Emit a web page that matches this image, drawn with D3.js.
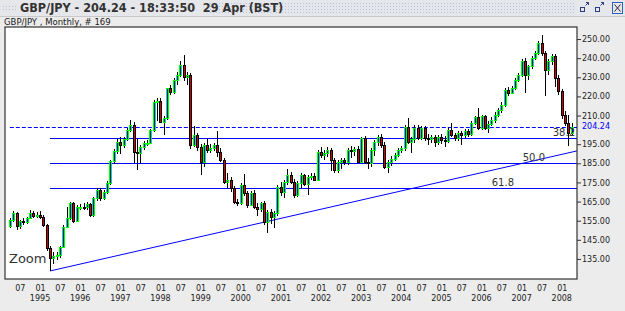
<!DOCTYPE html>
<html>
<head>
<meta charset="utf-8">
<script src="https://cdn.jsdelivr.net/npm/d3@7"></script>
<style>
  body { margin: 0; background: #ececec; }
  svg { display: block; }
  text { font-family: "DejaVu Sans", sans-serif; fill: #222; }
</style>
</head>
<body>
<div id="chart"></div>
<script>
// monthly GBP/JPY candles, first one is April 1994
const firstMonth = new Date(1994, 3, 1);
const opens = [152.0,155.4,159.2,152.0,154.8,154.2,156.3,159.0,157.2,158.2,157.0,152.8,140.6,135.3,136.5,137.0,141.4,151.9,156.3,164.1,155.0,162.0,162.3,162.0,163.6,158.0,166.7,171.0,166.7,170.0,174.6,186.2,191.5,196.3,194.8,197.6,202.4,205.0,191.1,190.3,193.7,195.5,195.8,202.4,217.2,217.8,206.8,208.5,224.2,222.1,228.6,231.2,236.4,230.0,231.0,194.6,199.8,193.7,185.9,194.6,191.8,193.0,194.5,191.1,186.8,175.4,176.3,171.9,165.0,164.1,173.7,169.3,163.2,169.3,162.4,161.2,164.1,154.5,159.7,157.1,158.8,172.8,170.2,175.4,178.9,175.4,168.5,174.5,178.9,174.0,178.0,178.5,176.3,191.1,189.4,190.5,192.0,186.7,181.5,185.9,186.7,185.5,192.0,191.3,192.4,185.9,198.1,185.9,185.0,192.0,196.3,199.0,194.6,183.3,185.9,187.5,189.4,192.0,192.8,204.2,196.3,197.5,203.7,198.5,203.3,198.5,197.5,198.9,196.0,198.9,197.0,196.5,202.4,199.8,198.0,200.9,200.0,201.7,200.3,206.1,209.0,203.5,209.6,203.5,205.5,207.8,210.5,213.0,215.7,223.5,222.0,224.4,228.7,231.4,238.3,231.4,235.7,240.1,242.7,247.9,242.7,234.0,238.3,240.9,229.6,222.6,210.5,206.1,200.9];
const highs = [156.5,160.0,159.8,155.5,156.5,157.0,160.5,160.0,159.3,160.0,157.8,153.5,142.0,138.5,138.8,142.0,152.5,162.4,164.8,165.0,163.0,163.5,164.0,165.0,164.5,167.5,172.0,172.0,171.0,175.5,187.0,192.5,197.5,199.0,199.0,203.5,207.7,206.5,197.5,194.5,196.5,197.0,203.0,218.0,219.0,219.0,210.0,224.5,226.0,229.5,233.0,238.5,241.6,233.0,232.0,204.5,201.0,195.0,195.5,197.5,195.0,195.5,202.0,193.0,188.0,180.0,178.0,173.0,166.5,174.5,179.5,170.5,170.3,171.0,164.5,165.0,165.5,160.5,161.0,160.0,173.5,175.0,176.5,182.0,180.5,177.0,175.5,180.0,179.5,179.0,180.0,180.0,192.0,193.5,192.0,193.5,193.0,188.0,187.0,188.0,188.0,193.0,194.0,193.5,194.0,199.0,199.5,188.0,193.0,197.0,200.0,200.5,196.0,187.0,189.0,190.5,193.0,194.0,205.0,208.5,199.0,205.0,205.0,204.5,204.5,200.5,200.0,200.0,200.0,200.5,199.5,203.5,206.0,201.0,202.0,202.0,203.0,203.0,207.0,210.0,213.9,210.5,210.5,207.0,209.0,212.0,214.0,217.0,224.5,225.0,225.5,229.5,232.5,239.5,240.0,236.5,241.0,243.5,249.0,252.3,244.0,239.5,242.0,242.0,231.0,224.0,212.5,210.4,206.0];
const lows = [151.0,154.5,150.2,150.5,152.5,153.5,155.8,156.2,156.5,156.0,151.5,139.0,128.7,132.5,134.5,135.5,140.5,151.0,155.5,153.8,154.5,160.5,160.5,160.8,157.0,157.0,165.5,165.5,165.8,169.0,173.5,184.5,190.0,190.0,193.0,196.5,201.5,185.0,181.5,185.0,192.0,194.0,195.0,201.5,207.0,206.5,200.0,207.5,220.5,221.0,226.0,230.0,228.0,226.0,192.5,193.5,191.5,178.9,183.0,190.5,190.5,191.5,188.5,185.5,174.0,172.0,170.0,163.5,162.5,163.0,168.0,161.5,162.5,161.0,157.5,159.5,153.0,148.5,153.5,151.0,157.5,168.0,167.0,173.5,174.0,167.0,167.5,172.0,173.0,168.5,176.5,175.5,175.5,188.0,186.5,188.5,181.0,180.0,180.0,182.0,184.0,184.0,188.0,189.0,185.0,185.0,184.5,182.0,183.0,189.0,194.0,193.0,182.0,179.7,183.5,186.0,188.5,190.5,191.5,195.0,190.5,195.5,197.0,197.0,196.5,194.5,195.5,193.5,194.5,195.0,193.5,195.5,199.0,196.5,196.5,194.5,198.5,199.0,199.5,205.0,202.5,202.5,202.5,201.0,204.5,206.0,209.0,211.5,214.5,220.0,221.0,223.5,227.5,230.0,221.8,228.5,234.5,239.0,241.5,241.0,220.0,231.0,236.5,225.0,220.5,208.0,204.5,193.9,199.5];
const closes = [155.4,159.2,152.0,154.8,154.2,156.3,159.0,157.2,158.2,157.0,152.8,140.6,135.3,136.5,137.0,141.4,151.9,156.3,164.1,155.0,162.0,162.3,162.0,163.6,158.0,166.7,171.0,166.7,170.0,174.6,186.2,191.5,196.3,194.8,197.6,202.4,205.0,191.1,190.3,193.7,195.5,195.8,202.4,217.2,217.8,206.8,208.5,224.2,222.1,228.6,231.2,236.4,230.0,231.0,194.6,199.8,193.7,185.9,194.6,191.8,193.0,194.5,191.1,186.8,175.4,176.3,171.9,165.0,164.1,173.7,169.3,163.2,169.3,162.4,161.2,164.1,154.5,159.7,157.1,158.8,172.8,170.2,175.4,178.9,175.4,168.5,174.5,178.9,174.0,178.0,178.5,176.3,191.1,189.4,190.5,192.0,186.7,181.5,185.9,186.7,185.5,192.0,191.3,192.4,185.9,198.1,185.9,185.0,192.0,196.3,199.0,194.6,183.3,185.9,187.5,189.4,192.0,192.8,204.2,196.3,197.5,203.7,198.5,203.3,198.5,197.5,198.9,196.0,198.9,197.0,196.5,202.4,199.8,198.0,200.9,200.0,201.7,200.3,206.1,209.0,203.5,209.6,203.5,205.5,207.8,210.5,213.0,215.7,223.5,222.0,224.4,228.7,231.4,238.3,231.4,235.7,240.1,242.7,247.9,242.7,234.0,238.3,240.9,229.6,222.6,210.5,206.1,200.9,204.24];

const yTicks = [135, 145, 155, 165, 175, 185, 195, 210, 220, 230, 240, 250];
const lastPrice = 204.24;
const lastTime = '18:33:50  29 Apr (BST)';

// fibonacci retracement drawn from the 1995 low to the 1998 high
const fibStart = new Date(1995, 3, 1);
const fibLow = 129.7, fibHigh = 240.3;
const fibRatios = [0.382, 0.5, 0.618];
const fibLabels = ['38.2', '50.0', '61.8'];

// support trend line from the 1995 low
const trendFrom = { date: new Date(1995, 3, 1), value: 128.7 };
const trendTo = { date: new Date(2008, 4, 19), value: 191.5 };

const months = d3.range(closes.length).map(i => d3.timeMonth.offset(firstMonth, i));
const candles = months.map((d, i) => ({ date: d, o: opens[i], h: highs[i], l: lows[i], c: closes[i] }));

const W = 625, H = 311;
const plot = { left: 5, top: 27, right: 577, bottom: 279 };
const lineBlue = '#0000ff';

const svg = d3.select('#chart').append('svg')
  .attr('width', W)
  .attr('height', H);

// window title bar
const defs = svg.append('defs');
const pat = defs.append('pattern')
  .attr('id', 'dots')
  .attr('width', 3).attr('height', 3)
  .attr('patternUnits', 'userSpaceOnUse');
pat.append('rect').attr('width', 3).attr('height', 3).attr('fill', '#e4e6ec');
pat.append('rect').attr('width', 1).attr('height', 1).attr('fill', '#b8c0d4');

svg.append('rect').attr('x', 0).attr('y', 0).attr('width', W).attr('height', H).attr('fill', '#ececec');
svg.append('rect').attr('x', 0).attr('y', 0).attr('width', W).attr('height', 16).attr('fill', '#e6e7ea');
svg.append('rect').attr('x', 210).attr('y', 2).attr('width', 365).attr('height', 12).attr('fill', 'url(#dots)');
svg.append('rect').attr('x', 3).attr('y', 4).attr('width', 14).attr('height', 8).attr('fill', 'url(#dots)');
svg.append('line').attr('x1', 0).attr('x2', W).attr('y1', 16.5).attr('y2', 16.5).attr('stroke', '#c8c8c8');

svg.append('text')
  .attr('x', 20).attr('y', 12)
  .style('font-family', '"Liberation Sans Narrow", "DejaVu Sans Condensed", sans-serif')
  .style('font-size', '12.5px')
  .style('font-weight', 'bold')
  .style('white-space', 'pre')
  .style('fill', '#333')
  .text(`GBP/JPY - ${lastPrice.toFixed(2)} - ${lastTime}`);

// little window buttons on the right
const btn = svg.append('g').attr('fill', 'none').attr('stroke', '#2b3f80');
btn.append('rect').attr('x', 580.5).attr('y', 7.5).attr('width', 4).attr('height', 4);
btn.append('path').attr('d', 'M585.5,5.5 L588.5,2.5 M586,2.5 h2.5 v2.5');
btn.append('rect').attr('x', 595.5).attr('y', 7.5).attr('width', 4).attr('height', 4);
btn.append('path').attr('d', 'M600.5,5.5 L603.5,2.5 M601,2.5 h2.5 v2.5');
btn.append('rect').attr('x', 612.5).attr('y', 2.5).attr('width', 10).attr('height', 11).attr('stroke', '#3060c0');
btn.append('path').attr('d', 'M614.5,4.5 L620.5,11.5 M620.5,4.5 L614.5,11.5').attr('stroke', '#223');

svg.append('text')
  .attr('x', 4).attr('y', 25)
  .style('font-size', '8.5px')
  .style('fill', '#222')
  .text('GBP/JPY , Monthly, # 169');

// plot area
svg.append('rect')
  .attr('x', plot.left).attr('y', plot.top)
  .attr('width', plot.right - plot.left).attr('height', plot.bottom - plot.top)
  .attr('fill', '#fff');

const x = d3.scaleTime()
  .domain([new Date(1994, 1, 16), new Date(2008, 4, 19)])
  .range([plot.left, plot.right]);

const y = d3.scaleLinear()
  .domain([124.5, 256.3])
  .range([plot.bottom, plot.top]);

defs.append('clipPath').attr('id', 'clip')
  .append('rect')
  .attr('x', plot.left).attr('y', plot.top)
  .attr('width', plot.right - plot.left).attr('height', plot.bottom - plot.top);

const g = svg.append('g').attr('clip-path', 'url(#clip)');

// last price line
g.append('line')
  .attr('x1', x(months[0])).attr('x2', plot.right)
  .attr('y1', Math.round(y(lastPrice)) + 0.5).attr('y2', Math.round(y(lastPrice)) + 0.5)
  .attr('stroke', lineBlue)
  .attr('stroke-dasharray', '4,2');

// fib levels
const fibLevels = fibRatios.map((r, i) => ({ label: fibLabels[i], value: fibHigh - r * (fibHigh - fibLow) }));
g.selectAll('.fib')
  .data(fibLevels)
  .enter().append('line')
  .attr('class', 'fib')
  .attr('x1', x(fibStart)).attr('x2', plot.right)
  .attr('y1', d => Math.round(y(d.value)) + 0.5)
  .attr('y2', d => Math.round(y(d.value)) + 0.5)
  .attr('stroke', lineBlue);

// trend line
g.append('line')
  .attr('x1', x(trendFrom.date)).attr('y1', y(trendFrom.value))
  .attr('x2', x(trendTo.date)).attr('y2', y(trendTo.value))
  .attr('stroke', lineBlue);

// candles, snapped to whole pixels like the original
const cx = d => Math.round(x(d.date));
const wicks = g.append('g').attr('shape-rendering', 'crispEdges');
wicks.selectAll('line')
  .data(candles)
  .enter().append('line')
  .attr('x1', d => cx(d) + 0.5).attr('x2', d => cx(d) + 0.5)
  .attr('y1', d => Math.round(y(d.h))).attr('y2', d => Math.round(y(d.l)))
  .attr('stroke', '#000');

const bodies = g.append('g').attr('shape-rendering', 'crispEdges');
bodies.selectAll('rect')
  .data(candles)
  .enter().append('rect')
  .attr('x', d => cx(d) - 0.5)
  .attr('width', 2)
  .attr('y', d => Math.round(y(Math.max(d.o, d.c))) + 0.5)
  .attr('height', d => Math.max(1, Math.round(y(Math.min(d.o, d.c))) - Math.round(y(Math.max(d.o, d.c)))))
  .attr('fill', d => d.c >= d.o ? '#0000ff' : '#cc0000')
  .attr('stroke', d => d.c >= d.o ? '#00ff00' : '#000')
  .attr('stroke-width', 1);

// fib labels sit just above their lines
const fibLabelOffsets = [2, 32, 63];
svg.selectAll('.fibtxt')
  .data(fibLevels)
  .enter().append('text')
  .attr('class', 'fibtxt')
  .attr('x', (d, i) => plot.right - fibLabelOffsets[i])
  .attr('y', d => y(d.value) - 2)
  .attr('text-anchor', 'end')
  .style('font-size', '10px')
  .style('fill', '#333')
  .text(d => d.label);

svg.append('text')
  .attr('x', 9).attr('y', 263)
  .style('font-size', '13px')
  .style('fill', '#333')
  .text('Zoom');

// border
svg.append('rect')
  .attr('x', plot.left).attr('y', plot.top)
  .attr('width', plot.right - plot.left).attr('height', plot.bottom - plot.top)
  .attr('fill', 'none')
  .attr('stroke', '#333')
  .attr('stroke-width', 1.2);

// y axis on the right
const yAxis = svg.append('g')
  .attr('transform', `translate(${plot.right},0)`)
  .call(d3.axisRight(y).tickValues(yTicks).tickSize(4).tickPadding(1).tickFormat(d3.format('.2f')));
yAxis.select('.domain').remove();
yAxis.selectAll('text').style('font-size', '8px').style('fill', '#222');
yAxis.selectAll('line').attr('stroke', '#333');

svg.append('text')
  .attr('x', plot.right + 5).attr('y', y(lastPrice))
  .attr('dy', '0.32em')
  .style('font-size', '8px')
  .style('fill', '#0000ff')
  .text(lastPrice.toFixed(2));

// x axis: 01 and 07 of every year, year under January
const tickDates = d3.timeMonth.every(6).range(new Date(1994, 6, 1), new Date(2008, 4, 1));
const xAxis = svg.append('g')
  .attr('transform', `translate(0,${plot.bottom})`)
  .call(d3.axisBottom(x).tickValues(tickDates).tickSize(0).tickPadding(6).tickFormat(d3.timeFormat('%m')));
xAxis.select('.domain').remove();
xAxis.selectAll('text').style('font-size', '8px').style('fill', '#222');

svg.append('g')
  .selectAll('text')
  .data(tickDates.filter(d => d.getMonth() === 0))
  .enter().append('text')
  .attr('x', d => x(d))
  .attr('y', 301)
  .attr('text-anchor', 'middle')
  .style('font-size', '8px')
  .style('fill', '#222')
  .text(d3.timeFormat('%Y'));
</script>
</body>
</html>
